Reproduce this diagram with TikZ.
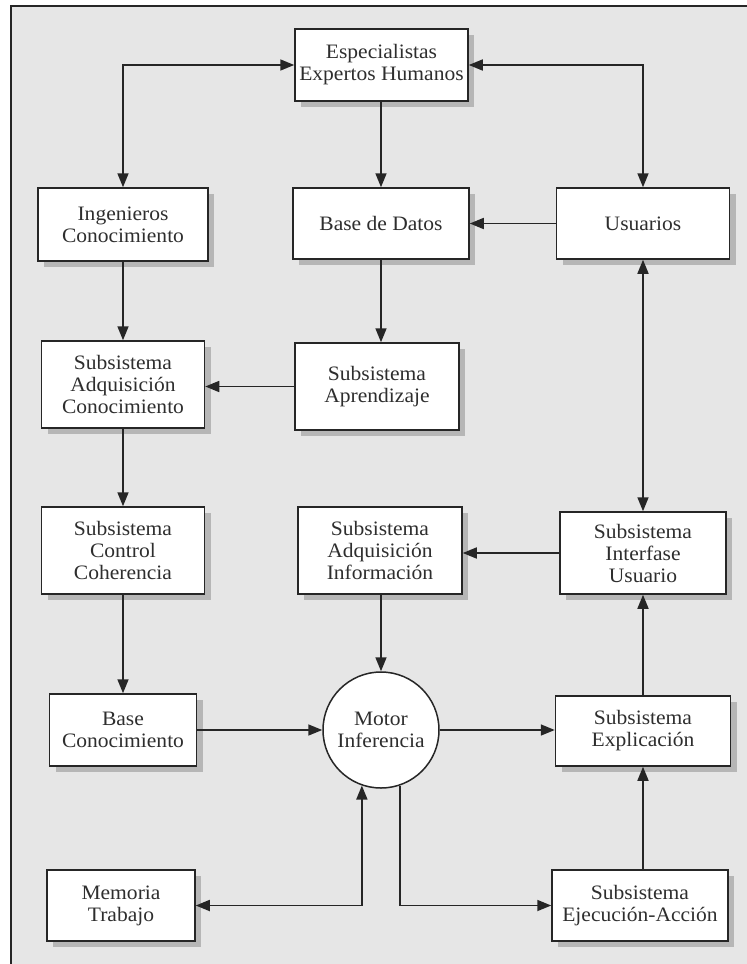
\documentclass[tikz,border=0pt]{standalone}
\usepackage{fontspec}
\setmainfont{Liberation Serif}[FakeStretch=1.05]
\usetikzlibrary{arrows.meta,shadows,calc}
\definecolor{bgc}{HTML}{E6E6E6}
\definecolor{shc}{HTML}{B6B6B6}
\definecolor{lnc}{HTML}{262626}
\definecolor{txc}{HTML}{2E2E2E}
\begin{document}
\begin{tikzpicture}[x=1pt,y=-1pt,
  box/.style={draw=lnc, line width=1.5pt, fill=white, align=center, inner sep=2pt,
    font=\fontsize{20.5}{22}\selectfont, text=txc,
    drop shadow={shadow xshift=6pt, shadow yshift=-6pt, fill=shc, opacity=1}},
  conn/.style={draw=lnc, line width=1.7pt, -{Triangle[length=14pt,width=11pt]}},
  biconn/.style={draw=lnc, line width=1.7pt, {Triangle[length=14pt,width=11pt]}-{Triangle[length=14pt,width=11pt]}}]
\useasboundingbox (0,0) rectangle (747,964);
\begin{scope}
\clip (0,0) rectangle (747,964);
\fill[bgc] (11,6) rectangle (780,990);
\draw[lnc, line width=1.5pt] (11,990) -- (11,6) -- (780,6);
\end{scope}

% nodes
\node[box, minimum width=173pt, minimum height=72pt] (esp) at (381.5,65) {Especialistas\\Expertos Humanos};
\node[box, minimum width=170pt, minimum height=73pt] (ing) at (123,224.5) {Ingenieros\\Conocimiento};
\node[box, minimum width=176pt, minimum height=71pt] (bd) at (381,223.5) {Base de Datos};
\node[box, minimum width=173pt, minimum height=71pt] (usu) at (643,223.5) {Usuarios};
\node[box, minimum width=163pt, minimum height=87pt] (adqc) at (123,384.5) {Subsistema\\Adquisición\\Conocimiento};
\node[box, minimum width=164pt, minimum height=87pt] (apr) at (377,386.5) {Subsistema\\Aprendizaje};
\node[box, minimum width=163pt, minimum height=87pt] (ctrl) at (123,550.5) {Subsistema\\Control\\Coherencia};
\node[box, minimum width=164pt, minimum height=87pt] (adqi) at (380,550.5) {Subsistema\\Adquisición\\Información};
\node[box, minimum width=166pt, minimum height=82pt] (intf) at (643,553) {Subsistema\\Interfase\\Usuario};
\node[box, minimum width=147pt, minimum height=72pt] (bc) at (123,730) {Base\\Conocimiento};
\node[draw=lnc, line width=1.5pt, fill=white, circle, minimum size=116pt, inner sep=0pt, align=center,
  font=\fontsize{20.5}{22}\selectfont, text=txc] (motor) at (381,730) {Motor\\Inferencia};
\node[box, minimum width=175pt, minimum height=70pt] (expl) at (643,731) {Subsistema\\Explicación};
\node[box, minimum width=148pt, minimum height=71pt] (mem) at (121,905.5) {Memoria\\Trabajo};
\node[box, minimum width=176pt, minimum height=71pt] (eje) at (640,905.5) {Subsistema\\Ejecución-Acción};

% connectors
\draw[biconn] (esp.west) -| (ing.north);
\draw[biconn] (esp.east) -| (usu.north);
\draw[conn] (esp.south -| bd.north) -- (bd.north);
\draw[conn] (usu.west) -- (usu.west -| bd.east);
\draw[conn] (ing.south) -- (ing.south |- adqc.north);
\draw[conn] (bd.south) -- (bd.south |- apr.north);
\draw[conn] (apr.west) -- (apr.west -| adqc.east);
\draw[conn] (adqc.south) -- (adqc.south |- ctrl.north);
\draw[conn] (ctrl.south) -- (ctrl.south |- bc.north);
\draw[biconn] (usu.south) -- (usu.south |- intf.north);
\draw[conn] (intf.west) -- (intf.west -| adqi.east);
\draw[conn] (adqi.south -| motor.north) -- (motor.north);
\draw[conn] (bc.east) -- (motor.west);
\draw[conn] (motor.east) -- (motor.east -| expl.west);
\draw[conn] (expl.north) -- (expl.north |- intf.south);
\draw[conn] (eje.north -| expl.south) -- (expl.south);
\draw[biconn] (mem.east) -| (motor.251);
\draw[conn] (motor.289) |- (eje.west);
\end{tikzpicture}
\end{document}
